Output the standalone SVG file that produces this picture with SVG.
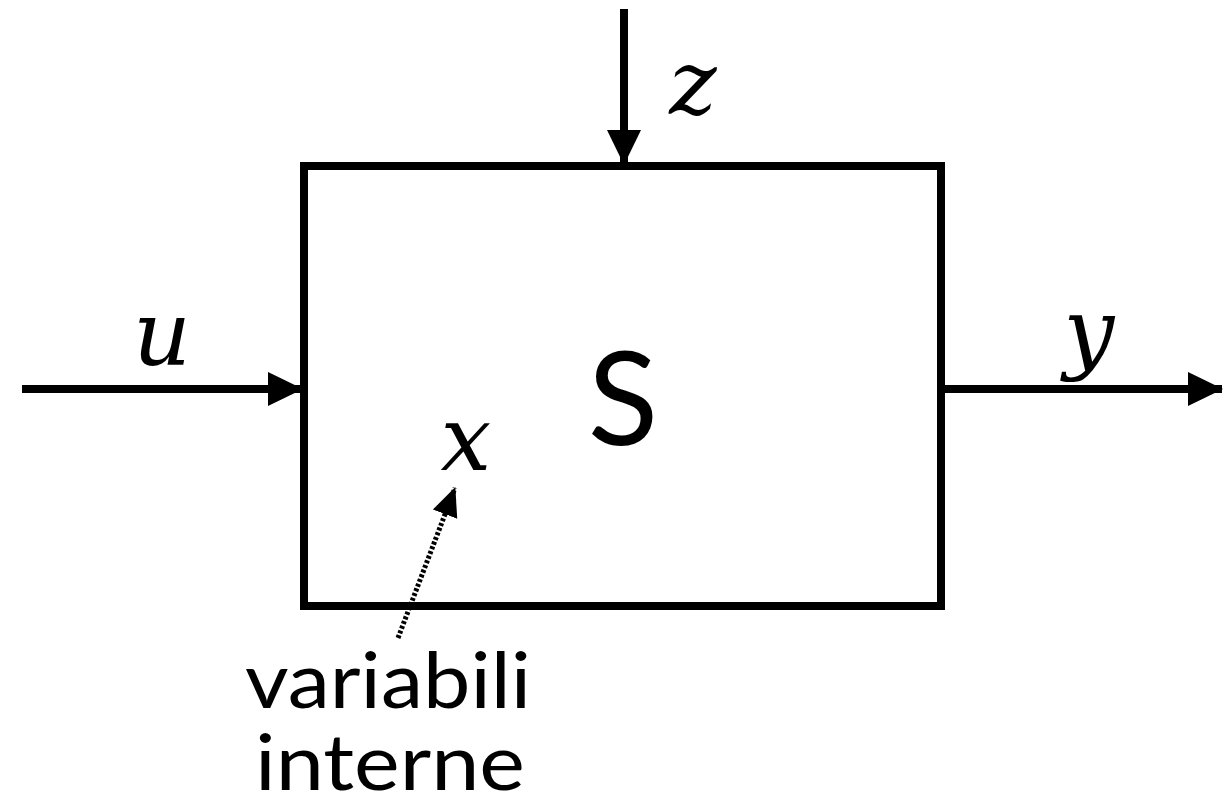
<svg xmlns="http://www.w3.org/2000/svg" width="1225" height="803" viewBox="0 0 1225 803">
<style>
.line{stroke:#000;stroke-width:8;fill:none}
.math{font-family:"DejaVu Serif","Liberation Serif",serif;font-style:italic;font-size:90px;fill:#000}
.sans{font-family:Lato,"Open Sans",sans-serif;fill:#000}
</style>
<defs>
<marker id="ah" markerWidth="36" markerHeight="36" viewBox="0 0 36 36" refX="34" refY="18" markerUnits="userSpaceOnUse" orient="auto">
<path d="M0,1 L35,18 L0,35 Z" fill="#000"/>
</marker>
<marker id="ah2" markerWidth="30" markerHeight="30" viewBox="0 0 30 30" refX="28" refY="15" markerUnits="userSpaceOnUse" orient="auto">
<path d="M0,2 L29,15 L0,28 Z" fill="#000"/>
</marker>
</defs>
<g id="system">
<rect x="304" y="166" width="637" height="440" class="line" stroke-width="9"/>
<text x="623" y="445" class="sans" font-size="130" text-anchor="middle">S</text>
</g>
<g id="connectors">
<line x1="624" y1="9" x2="624" y2="164" class="line" marker-end="url(#ah)"/>
<line x1="22" y1="389" x2="302" y2="389" class="line" marker-end="url(#ah)"/>
<line x1="942" y1="389" x2="1222" y2="389" class="line" marker-end="url(#ah)"/>
<line x1="398" y1="638" x2="455" y2="488" stroke="#000" stroke-width="5" stroke-dasharray="3 2" marker-end="url(#ah2)"/>
</g>
<g id="labels">
<text x="693" y="114" class="math" text-anchor="middle">z</text>
<text x="162" y="365" class="math" text-anchor="middle">u</text>
<text x="1089" y="362" class="math" text-anchor="middle">y</text>
<text x="466" y="470" class="math" text-anchor="middle">x</text>
<text x="388" y="708" class="sans" font-size="78" text-anchor="middle" textLength="286" lengthAdjust="spacingAndGlyphs">variabili</text>
<text x="390" y="790" class="sans" font-size="78" text-anchor="middle" textLength="270" lengthAdjust="spacingAndGlyphs">interne</text>
</g>
</svg>
